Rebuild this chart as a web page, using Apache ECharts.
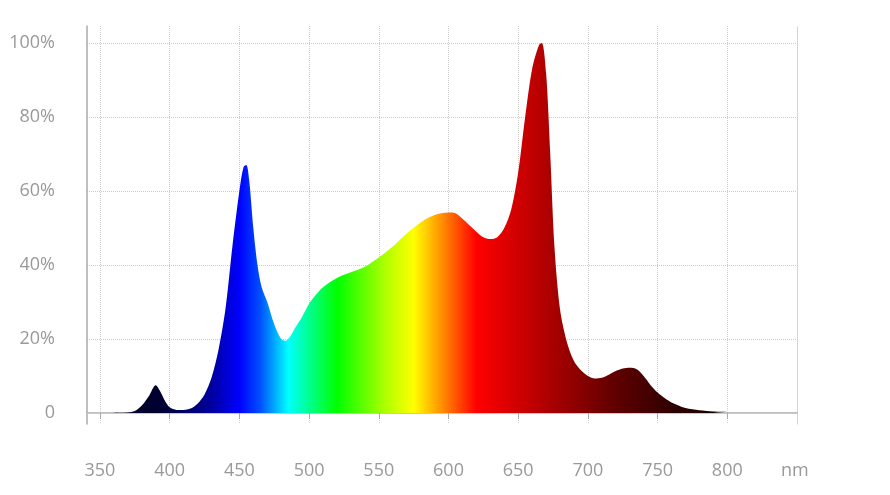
<!DOCTYPE html>
<html><head><meta charset="utf-8">
<script src="https://cdn.jsdelivr.net/npm/echarts@6/dist/echarts.min.js"></script>
<style>html,body{margin:0;padding:0;background:#fff}#c{width:890px;height:495px}</style>
</head><body><div id="c"></div>
<script>
const wavelengths = [360,370,375,380,385,390,393,397,400,405,410,415,420,425,430,435,440,445,450,453,455,457,460,463,466,470,475,480,483,487,490,495,500,505,510,520,530,540,550,560,570,580,590,600,605,610,620,625,630,635,640,645,650,655,660,665,667,670,673,676,680,685,690,695,700,705,710,715,720,725,730,735,740,745,750,755,760,765,770,780,790,800];
const intensity = [0,0.1,0.5,2,4.5,7.5,6,3,1.5,0.8,0.8,1.2,2.5,5,9.5,17,28,45,60,66.5,67,63,50,40,34,30,24,20,19.5,21,23,26,29.5,32,34,36.5,38,39.5,42,45,48.5,51.5,53.5,54.2,54,52.5,49,47.5,47,47.5,50,55,65,80,93,99.5,100,92,70,45,28,19,14,11.5,10,9.3,9.5,10.3,11.3,12,12.2,11.8,10,7.5,5.5,4,2.8,2,1.3,0.7,0.4,0.3];
const xTicks = [350,400,450,500,550,600,650,700,750,800];
const yTicks = [0,20,40,60,80,100];
const colorStops = [[360,'#000022'],[395,'#000033'],[430,'#0000a0'],[450,'#0000ff'],[465,'#0050ff'],[485,'#00ffff'],[500,'#00ff90'],[520,'#00ff00'],[555,'#b0ff00'],[575,'#ffff00'],[595,'#ff9000'],[620,'#ff0000'],[650,'#d00000'],[680,'#a00000'],[720,'#600000'],[760,'#300000'],[800,'#100000']];
const x0 = wavelengths[0], x1 = wavelengths[wavelengths.length-1];
const data = wavelengths.map((w,i)=>[w,intensity[i]]);
const grad = new echarts.graphic.LinearGradient(0,0,1,0, colorStops.map(s=>({offset:(s[0]-x0)/(x1-x0), color:s[1]})));
const chart = echarts.init(document.getElementById('c'));
const lbl = {color:'#999', fontSize:18, fontFamily:'Open Sans'};
chart.setOption({
  animation:false,
  grid:{left:87,right:93,top:26,bottom:71},
  xAxis:[{type:'value',min:340.7,max:850,
    axisLine:{lineStyle:{color:'#aaa',width:1.5}},
    axisTick:{show:true,length:6,customValues:xTicks,lineStyle:{color:'#aaa'}},
    axisLabel:Object.assign({margin:38,customValues:xTicks},lbl),
    splitLine:{show:true,lineStyle:{type:'dotted',color:'#ccc'}}},
    {type:'value',position:'top',min:340.7,max:850,axisLine:{show:true,lineStyle:{type:'dotted',color:'#ccc'}},axisTick:{show:false},axisLabel:{show:false},splitLine:{show:false}}],
  yAxis:[{type:'value',min:-3,max:104.6,
    axisLine:{show:true,lineStyle:{color:'#aaa',width:1.5}},
    axisTick:{show:false,customValues:yTicks},
    axisLabel:Object.assign({margin:32,customValues:yTicks,formatter:v=>v===0?'0':v+'%'},lbl),
    splitLine:{show:true,lineStyle:{type:'dotted',color:'#ccc'}}},
    {type:'value',position:'right',min:-3,max:104.6,axisLine:{show:true,lineStyle:{type:'dotted',color:'#ccc'}},axisTick:{show:false},axisLabel:{show:false},splitLine:{show:false}}],
  graphic:[{type:'text',left:781,top:462,style:{text:'nm',fill:'#999',fontSize:18,fontFamily:'Open Sans'}}],
  series:[{type:'line',data:data,smooth:0.3,showSymbol:false,lineStyle:{width:0},areaStyle:{color:grad,opacity:1}}]
});
</script></body></html>
